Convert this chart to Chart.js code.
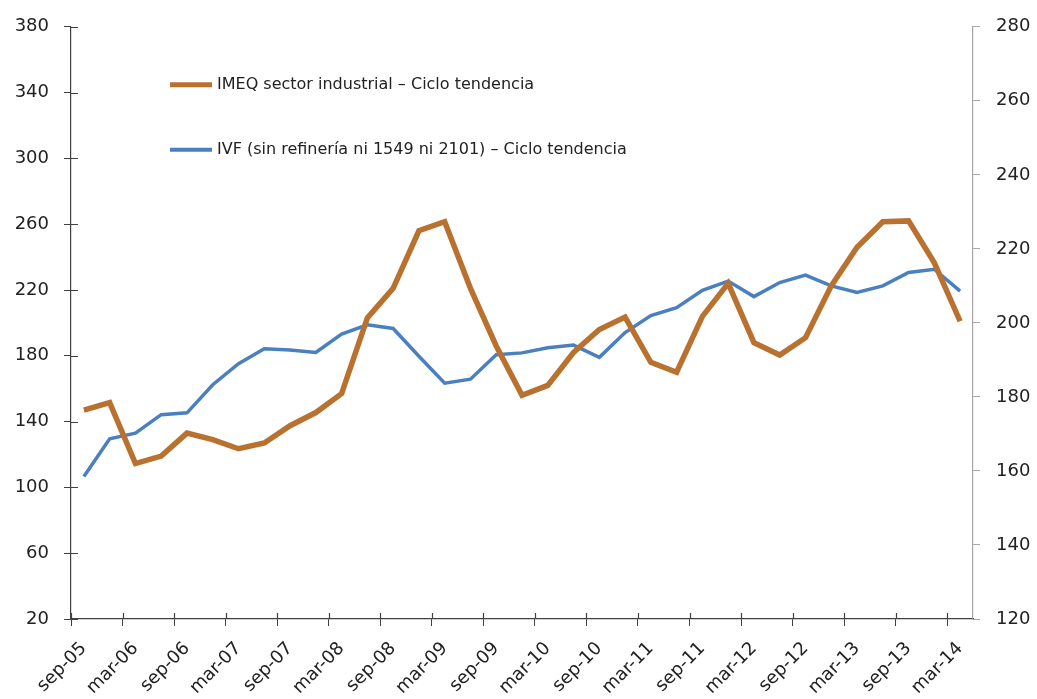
<!DOCTYPE html>
<html>
<head>
<meta charset="utf-8">
<script src="https://cdn.jsdelivr.net/npm/chart.js@4"></script>
<style>
  body { margin: 0; background: #fff; }
  #wrap { width: 1037px; height: 699px; position: relative; }
</style>
</head>
<body>
<div id="wrap"><canvas id="grafica"></canvas></div>
<script>
// trimestres sep-05 .. mar-14
var trimestres = ["sep-05","dic-05","mar-06","jun-06","sep-06","dic-06","mar-07","jun-07","sep-07","dic-07",
  "mar-08","jun-08","sep-08","dic-08","mar-09","jun-09","sep-09","dic-09","mar-10","jun-10",
  "sep-10","dic-10","mar-11","jun-11","sep-11","dic-11","mar-12","jun-12","sep-12","dic-12",
  "mar-13","jun-13","sep-13","dic-13","mar-14"];

var imeq = [147, 151.5, 114.5, 119, 133, 129, 123.5, 127, 137.5, 145.5,
  157, 203, 221, 256, 261.5, 221, 186, 156, 162, 182,
  196, 203.5, 176, 170, 204, 224, 188, 180.5, 191, 222.5,
  246, 261.5, 262, 236.5, 201];

var ivf = [158.5, 168.7, 170.2, 175.2, 175.7, 183.3, 189, 193, 192.7, 192,
  197, 199.5, 198.5, 191, 183.7, 184.8, 191.4, 191.9, 193.3, 194,
  190.7, 197.4, 202, 204.1, 208.8, 211.3, 207.1, 210.9, 212.9, 210,
  208.2, 210, 213.6, 214.5, 208.6];

var ticksIzq = { min: 20, max: 380, step: 40 };
var ticksDer = { min: 120, max: 280, step: 20 };

var naranja = '#B9712F';
var azul = '#4A80C0';
var fuente = 'DejaVu Sans';

// leyenda dibujada dentro del area del grafico
var leyendaInterna = {
  id: 'leyendaInterna',
  afterDraw: function(chart) {
    var c = chart.ctx, a = chart.chartArea;
    var filas = [58, 123];
    c.save();
    c.font = '16px "' + fuente + '"';
    c.fillStyle = '#222';
    c.textBaseline = 'middle';
    chart.data.datasets.forEach(function(ds, i) {
      var y = a.top + filas[i];
      c.strokeStyle = ds.borderColor;
      c.lineWidth = i === 0 ? 5 : 4;
      c.beginPath();
      c.moveTo(a.left + 99, y);
      c.lineTo(a.left + 141, y);
      c.stroke();
      c.fillText(ds.label, a.left + 146, y);
    });
    c.restore();
  }
};

// marcas que cruzan los ejes (parte interior)
var marcasCruzadas = {
  id: 'marcasCruzadas',
  afterDraw: function(chart) {
    var c = chart.ctx, a = chart.chartArea;
    var x = chart.scales.x, y = chart.scales.y;
    var paso = (x.getPixelForTick(1) - x.getPixelForTick(0));
    c.save();
    c.strokeStyle = '#404040';
    c.lineWidth = 1.2;
    c.beginPath();
    for (var i = 0; i < trimestres.length; i += 2) {
      var px = Math.round(x.getPixelForTick(i) - paso / 2) + 0.5;
      c.moveTo(px, a.bottom);
      c.lineTo(px, a.bottom - 6);
    }
    y.ticks.forEach(function(t, i) {
      var py = Math.round(y.getPixelForTick(i)) + 0.5;
      c.moveTo(a.left, py);
      c.lineTo(a.left + 7, py);
    });
    c.stroke();
    c.restore();
  }
};

var ctx = document.getElementById('grafica').getContext('2d');
var grafica = new Chart(ctx, {
  type: 'line',
  data: {
    labels: trimestres,
    datasets: [{
      label: 'IMEQ sector industrial \u2013 Ciclo tendencia',
      data: imeq,
      yAxisID: 'y',
      borderColor: naranja,
      backgroundColor: naranja,
      borderWidth: 5.5,
      pointRadius: 0,
      tension: 0,
      fill: false
    }, {
      label: 'IVF (sin refiner\u00eda ni 1549 ni 2101) \u2013 Ciclo tendencia',
      data: ivf,
      yAxisID: 'y2',
      borderColor: azul,
      backgroundColor: azul,
      borderWidth: 3.5,
      pointRadius: 0,
      tension: 0,
      fill: false
    }]
  },
  options: {
    responsive: true,
    maintainAspectRatio: false,
    animation: false,
    layout: { padding: { top: 25, left: 0, right: 0, bottom: 0 } },
    plugins: {
      legend: { display: false },
      tooltip: { enabled: false }
    },
    scales: {
      x: {
        offset: true,
        afterFit: function(s) { s.height = 80; },
        border: { color: '#404040', width: 1.2 },
        grid: {
          offset: true,
          drawOnChartArea: false,
          tickLength: 7,
          color: function(c) { return c.index % 2 === 0 ? '#404040' : 'rgba(0,0,0,0)'; }
        },
        ticks: {
          autoSkip: false,
          maxRotation: 45,
          minRotation: 45,
          padding: 12,
          color: '#222',
          font: { family: fuente, size: 18 },
          callback: function(v, i) { return i % 2 === 0 ? this.getLabelForValue(v) : ''; }
        }
      },
      y: {
        position: 'left',
        min: ticksIzq.min,
        max: ticksIzq.max,
        afterFit: function(s) { s.width = 71; },
        border: { color: '#404040', width: 1.2 },
        grid: { drawOnChartArea: false, tickLength: 7, color: '#404040' },
        ticks: {
          stepSize: ticksIzq.step,
          padding: 15,
          color: '#222',
          font: { family: fuente, size: 18 }
        }
      },
      y2: {
        position: 'right',
        min: ticksDer.min,
        max: ticksDer.max,
        afterFit: function(s) { s.width = 64; },
        border: { color: '#a6a6a6', width: 1.2 },
        grid: { drawOnChartArea: false, tickLength: 7, color: '#a6a6a6' },
        ticks: {
          stepSize: ticksDer.step,
          padding: 16,
          color: '#222',
          font: { family: fuente, size: 18 }
        }
      }
    }
  },
  plugins: [leyendaInterna, marcasCruzadas]
});
</script>
</body>
</html>
